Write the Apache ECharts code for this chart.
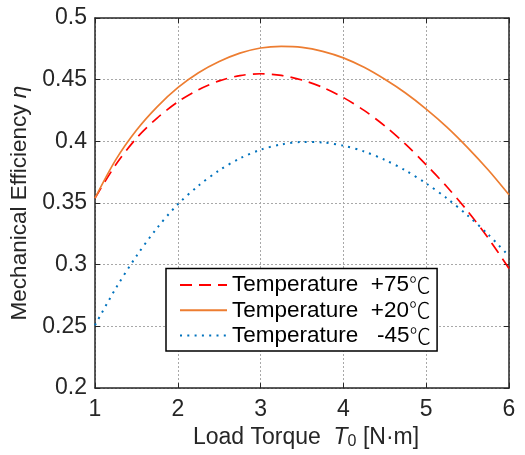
<!DOCTYPE html>
<html>
<head>
<meta charset="utf-8">
<script src="https://cdn.jsdelivr.net/npm/echarts@6/dist/echarts.min.js"></script>
<style>
html,body{margin:0;padding:0;background:#fff;}
#chart{width:525px;height:455px;}
</style>
</head>
<body>
<div id="chart"></div>
<script>
// Load torque T0 [N·m]
var torque = [1.00, 1.25, 1.50, 1.75, 2.00, 2.25, 2.50, 2.75, 3.00, 3.25, 3.50,
              3.75, 4.00, 4.25, 4.50, 4.75, 5.00, 5.25, 5.50, 5.75, 6.00];
// Mechanical efficiency at +75 ℃
var eta75 = [0.354, 0.381, 0.4025, 0.4189, 0.432, 0.4419, 0.449, 0.4533, 0.4548, 0.4535, 0.4497,
             0.4438, 0.4355, 0.4251, 0.4125, 0.3977, 0.381, 0.3632, 0.3435, 0.3215, 0.297];
// Mechanical efficiency at +20 ℃
var eta20 = [0.354, 0.385, 0.409, 0.428, 0.4435, 0.4556, 0.4647, 0.4715, 0.4757, 0.477, 0.4762,
             0.473, 0.4677, 0.460, 0.4503, 0.4392, 0.4262, 0.4116, 0.395, 0.3768, 0.3567];
// Mechanical efficiency at -45 ℃
var etaM45 = [0.251, 0.2808, 0.307, 0.3298, 0.349, 0.3641, 0.3765, 0.3862, 0.3932, 0.3975, 0.3995,
              0.3991, 0.3965, 0.3918, 0.385, 0.3764, 0.3659, 0.3538, 0.340, 0.3244, 0.307];
var seriesNames = ['Temperature  +75℃', 'Temperature  +20℃', 'Temperature   -45℃'];
var xTicks = [1, 2, 3, 4, 5, 6];
var yTicks = [0.2, 0.25, 0.3, 0.35, 0.4, 0.45, 0.5];

function pairs(ys) { return torque.map(function (x, i) { return [x, ys[i]]; }); }

var FONT = "'Liberation Sans', Arial, Helvetica, sans-serif";
var CJK = "'Noto Sans CJK SC', 'Noto Sans CJK JP', sans-serif";
var AX = '#262626';
var FS = 23;
var chart = echarts.init(document.getElementById('chart'), null, { renderer: 'canvas' });

var axisLineStyle = { show: true, lineStyle: { color: AX, width: 1.5 } };
var axisTickStyle = { show: true, inside: true, length: 5, lineStyle: { color: AX, width: 1 } };
var gridLineStyle = { show: true, lineStyle: { color: '#a8a8a8', width: 1, type: [2, 2] } };

chart.setOption({
  animation: false,
  backgroundColor: '#ffffff',
  grid: { left: 95, right: 16, top: 18, bottom: 63, containLabel: false },
  legend: {
    show: true,
    orient: 'vertical',
    left: 166,
    top: 268.5,
    padding: [4, 6, 3, 13],
    itemWidth: 47,
    itemHeight: 14,
    itemGap: 0.3,
    backgroundColor: '#ffffff',
    borderColor: '#000000',
    borderWidth: 1.5,
    borderRadius: 0,
    itemStyle: { opacity: 0 },
    formatter: function (name) {
      var p = name.split('℃');
      return '{t|' + p[0] + '}{c|℃}';
    },
    textStyle: {
      fontFamily: FONT, fontSize: 22.5, lineHeight: 25, color: '#000000',
      rich: {
        t: { fontFamily: FONT, fontSize: 22.5, lineHeight: 25, color: '#000000' },
        c: { fontFamily: CJK, fontSize: 21.5, lineHeight: 25, color: '#000000', fontWeight: 300 }
      }
    },
    data: seriesNames
  },
  xAxis: [{
    type: 'value', min: xTicks[0], max: xTicks[xTicks.length - 1], interval: 1,
    position: 'bottom',
    axisLine: axisLineStyle, axisTick: axisTickStyle,
    axisLabel: { fontFamily: FONT, fontSize: FS, color: AX, margin: 10 },
    splitLine: gridLineStyle,
    name: '{n|Load Torque  }{i|T}{s|0}{n| [N·m]}',
    nameLocation: 'middle',
    nameGap: 36,
    nameTextStyle: {
      padding: [0, 0, 0, 8],
      rich: {
        n: { fontFamily: FONT, fontSize: FS, color: AX },
        i: { fontFamily: FONT, fontSize: FS, fontStyle: 'italic', color: AX },
        s: { fontFamily: FONT, fontSize: 16, color: AX, padding: [9, 0, 0, 0] }
      }
    }
  }, {
    type: 'value', min: xTicks[0], max: xTicks[xTicks.length - 1], interval: 1,
    position: 'top',
    axisLine: axisLineStyle, axisTick: axisTickStyle,
    axisLabel: { show: false }, splitLine: { show: false }
  }],
  yAxis: [{
    type: 'value', min: yTicks[0], max: yTicks[yTicks.length - 1], interval: 0.05,
    position: 'left',
    axisLine: axisLineStyle, axisTick: axisTickStyle,
    axisLabel: {
      fontFamily: FONT, fontSize: FS, color: AX, margin: 8,
      formatter: function (v) { return String(+v.toFixed(2)); }
    },
    splitLine: gridLineStyle,
    name: '{n|Mechanical Efficiency }{i|η}',
    nameLocation: 'middle',
    nameGap: 58,
    nameRotate: 90,
    nameTextStyle: {
      rich: {
        n: { fontFamily: FONT, fontSize: 22.5, color: AX },
        i: { fontFamily: FONT, fontSize: 22.5, fontStyle: 'italic', color: AX }
      }
    }
  }, {
    type: 'value', min: yTicks[0], max: yTicks[yTicks.length - 1], interval: 0.05,
    position: 'right',
    axisLine: axisLineStyle, axisTick: axisTickStyle,
    axisLabel: { show: false }, splitLine: { show: false }
  }],
  series: [{
    name: seriesNames[0], type: 'line', xAxisIndex: 0, yAxisIndex: 0,
    data: pairs(eta75), smooth: 0.3, showSymbol: false, symbol: 'none',
    lineStyle: { color: '#ff0000', width: 1.7, type: [12, 7] },
    itemStyle: { color: '#ff0000' }, z: 3
  }, {
    name: seriesNames[1], type: 'line', xAxisIndex: 0, yAxisIndex: 0,
    data: pairs(eta20), smooth: 0.3, showSymbol: false, symbol: 'none',
    lineStyle: { color: '#ed7d31', width: 1.7, type: 'solid' },
    itemStyle: { color: '#ed7d31' }, z: 3
  }, {
    name: seriesNames[2], type: 'line', xAxisIndex: 0, yAxisIndex: 0,
    data: pairs(etaM45), smooth: 0.3, showSymbol: false, symbol: 'none',
    lineStyle: { color: '#0072bd', width: 2, type: [2, 5.3] },
    itemStyle: { color: '#0072bd' }, z: 3
  }]
});
</script>
</body>
</html>
